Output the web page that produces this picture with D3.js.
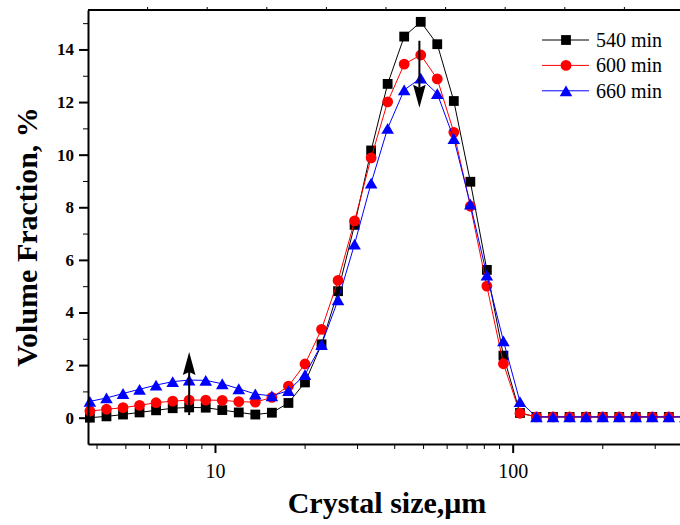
<!DOCTYPE html>
<html><head><meta charset="utf-8">
<script src="https://cdn.jsdelivr.net/npm/d3@7"></script>
<style>body{margin:0;background:#fff} svg{display:block;background:#fff}</style>
</head><body><svg id="c" width="680" height="525"></svg>
<script>
// ---- data ----
const sizes = [3.80, 4.32, 4.91, 5.58, 6.34, 7.21, 8.19, 9.31, 10.58, 12.02, 13.66, 15.53, 17.65, 20.06, 22.80, 25.91, 29.44, 33.46, 38.02, 43.21, 49.11, 55.80, 63.43, 72.08, 81.90, 93.09, 105.8, 120.2, 136.6, 155.3, 176.5, 200.6, 228.0, 259.1, 294.4, 334.6, 380.2];
const v540 = [0.0, 0.05, 0.12, 0.2, 0.28, 0.36, 0.39, 0.38, 0.29, 0.2, 0.12, 0.19, 0.56, 1.34, 2.79, 4.81, 7.33, 10.16, 12.69, 14.49, 15.05, 14.2, 12.04, 8.97, 5.62, 2.36, 0.18, 0.03, 0.03, 0.03, 0.03, 0.03, 0.03, 0.03, 0.03, 0.03, 0.03];
const v600 = [0.25, 0.32, 0.38, 0.47, 0.57, 0.63, 0.67, 0.67, 0.66, 0.61, 0.59, 0.77, 1.2, 2.04, 3.36, 5.22, 7.48, 9.88, 12.01, 13.44, 13.79, 12.88, 10.85, 8.04, 5.0, 2.05, 0.17, 0.03, 0.03, 0.03, 0.03, 0.03, 0.03, 0.03, 0.03, 0.03, 0.03];
const v660 = [0.62, 0.75, 0.92, 1.08, 1.24, 1.37, 1.43, 1.42, 1.29, 1.1, 0.9, 0.83, 1.03, 1.64, 2.78, 4.48, 6.6, 8.92, 11.0, 12.46, 12.91, 12.32, 10.61, 8.12, 5.42, 2.92, 0.61, 0.03, 0.03, 0.03, 0.03, 0.03, 0.03, 0.03, 0.03, 0.03, 0.03];
const seriesNames = ["540 min", "600 min", "660 min"];
const seriesColors = ["#000000", "#ff0000", "#0000ff"];
const seriesShapes = ["square", "circle", "triangle"];
const yMajorTicks = [0, 2, 4, 6, 8, 10, 12, 14];
const yMinorTicks = [1, 3, 5, 7, 9, 11, 13, 15];
const xMajorTicks = [10, 100];
const xMinorTicks = [4, 5, 6, 7, 8, 9, 20, 30, 40, 50, 60, 70, 80, 90, 200, 300];
const xTitle = "Crystal size,\u03bcm";
const yTitle = "Volume Fraction, %";
// arrow annotations (data coords)
const arrowUp = {x: 8.19, from: 0.1, to: 2.5};
const arrowDown = {x: 48.6, from: 14.33, to: 11.78};

// ---- chart ----
const svg = d3.select("#c");
const W = 680, H = 525;
const x = d3.scaleLog().domain([3.745, 364.8]).range([88, 680]);
const y = d3.scaleLinear().domain([-1, 15.5]).range([444, 10]);
const serif = "'Liberation Serif','Times New Roman',serif";

svg.append("rect").attr("width", W).attr("height", H).attr("fill", "#fff");

const clip = svg.append("defs").append("clipPath").attr("id", "clip")
  .append("rect").attr("x", 80).attr("y", 0).attr("width", 600).attr("height", 450);

// top frame line with small ticks
const topScale = d3.scaleLinear().domain([0, 10]).range([88, 684]);
svg.append("line").attr("x1", 88).attr("x2", 680).attr("y1", 10).attr("y2", 10)
  .attr("stroke", "#000").attr("stroke-width", 2);
svg.append("g").selectAll("line").data(d3.range(1, 10)).join("line")
  .attr("x1", d => topScale(d)).attr("x2", d => topScale(d))
  .attr("y1", 10).attr("y2", 7).attr("stroke", "#000").attr("stroke-width", 1);

// series
const shapePath = {
  square: d3.symbol(d3.symbolSquare, 96)(),
  circle: d3.symbol(d3.symbolCircle, 92)(),
  triangle: "M0,-5.4L6.3,5.4L-6.3,5.4Z"
};
const allVals = [v540, v600, v660];
const plot = svg.append("g").attr("clip-path", "url(#clip)");
const line = d3.line().x(d => x(d[0])).y(d => y(d[1]));
allVals.forEach((vals, i) => {
  const pts = sizes.map((s, j) => [s, vals[j]]);
  const g = plot.append("g");
  g.append("path").attr("d", line(pts)).attr("fill", "none")
    .attr("stroke", seriesColors[i]).attr("stroke-width", 1);
  g.selectAll("path.m").data(pts).join("path").attr("class", "m")
    .attr("d", shapePath[seriesShapes[i]])
    .attr("transform", d => `translate(${x(d[0])},${y(d[1])})`)
    .attr("fill", seriesColors[i]);
});

// arrows
function arrow(a) {
  const ax = x(a.x), y0 = y(a.from), y1 = y(a.to);
  const dir = y1 < y0 ? -1 : 1; // -1 = up
  const headLen = 23, halfW = 6.3, notch = 3;
  const baseY = y1 - dir * headLen;
  svg.append("line").attr("x1", ax).attr("x2", ax).attr("y1", y0).attr("y2", baseY + dir * notch)
    .attr("stroke", "#000").attr("stroke-width", 2);
  svg.append("path")
    .attr("d", `M${ax},${y1}L${ax + halfW},${baseY}L${ax},${baseY + dir * notch}L${ax - halfW},${baseY}Z`)
    .attr("fill", "#000");
}
arrow(arrowUp);
arrow(arrowDown);

// y axis
const yAxis = svg.append("g").attr("transform", "translate(88,0)")
  .call(d3.axisLeft(y).tickValues(yMajorTicks).tickSize(9).tickSizeOuter(0).tickPadding(5).tickFormat(d3.format("d")));
svg.append("g").attr("transform", "translate(88,0)")
  .call(d3.axisLeft(y).tickValues(yMinorTicks).tickSize(5).tickSizeOuter(0).tickFormat(""))
  .select(".domain").remove();
yAxis.select(".domain").attr("stroke-width", 2);
yAxis.selectAll(".tick line").attr("stroke-width", 2);
yAxis.selectAll("text").attr("font-family", serif).attr("font-size", 17).attr("font-weight", "bold").attr("fill", "#000");

// x axis
const xAxis = svg.append("g").attr("transform", "translate(0,444)")
  .call(d3.axisBottom(x).tickValues(xMajorTicks).tickSize(9).tickSizeOuter(0).tickPadding(11).tickFormat(d3.format("d")));
svg.append("g").attr("transform", "translate(0,444)")
  .call(d3.axisBottom(x).tickValues(xMinorTicks).tickSize(5).tickSizeOuter(0).tickFormat(""))
  .select(".domain").remove();
xAxis.select(".domain").attr("stroke-width", 2);
xAxis.selectAll(".tick line").attr("stroke-width", 2);
xAxis.selectAll("text").attr("font-family", serif).attr("font-size", 20).attr("fill", "#000");
svg.selectAll(".tick line").attr("stroke", "#000");

// titles
svg.append("text").attr("x", 387).attr("y", 513).attr("text-anchor", "middle")
  .attr("font-family", serif).attr("font-size", 30).attr("font-weight", "bold").text(xTitle);
svg.append("text").attr("transform", "translate(37,237) rotate(-90)").attr("text-anchor", "middle")
  .attr("font-family", serif).attr("font-size", 30).attr("font-weight", "bold").text(yTitle);

// legend
const lg = svg.append("g");
seriesNames.forEach((name, i) => {
  const ly = 40 + i * 25.4;
  lg.append("line").attr("x1", 542).attr("x2", 589).attr("y1", ly).attr("y2", ly)
    .attr("stroke", seriesColors[i]).attr("stroke-width", 1);
  lg.append("path").attr("d", shapePath[seriesShapes[i]]).attr("transform", `translate(566,${ly})`)
    .attr("fill", seriesColors[i]);
  lg.append("text").attr("x", 596).attr("y", ly).attr("dy", "0.34em")
    .attr("font-family", serif).attr("font-size", 20).attr("fill", "#000").text(name);
});
</script></body></html>
